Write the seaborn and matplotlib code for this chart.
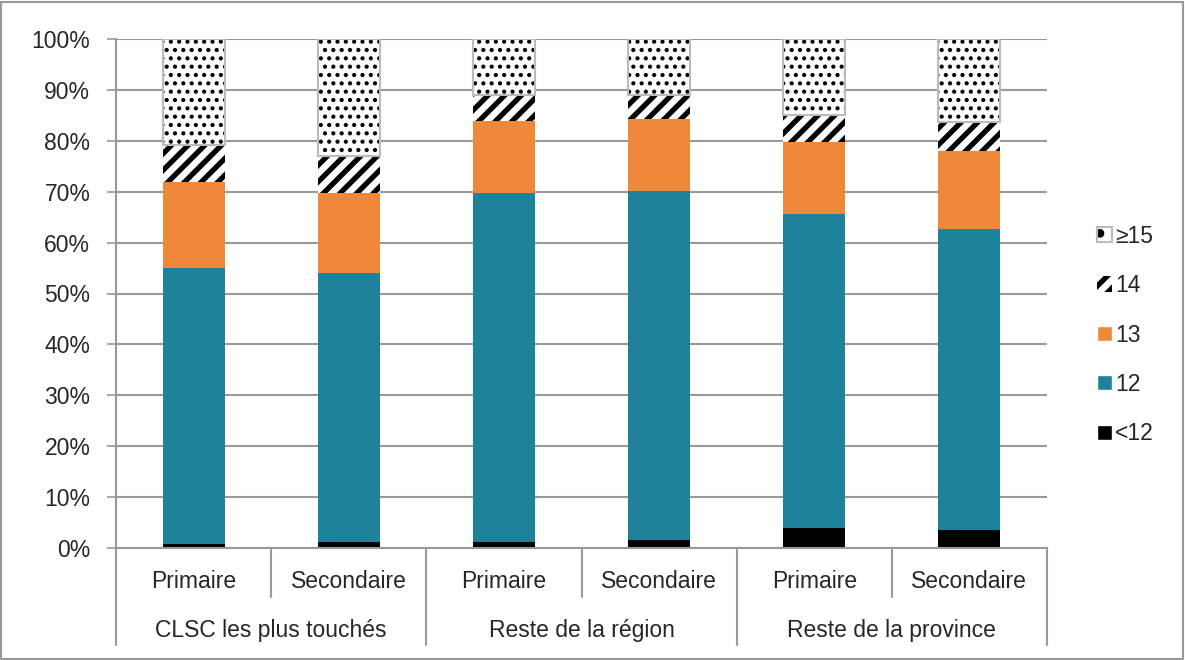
import numpy as np
import pandas as pd
import matplotlib
matplotlib.use("Agg")
import matplotlib.pyplot as plt
import matplotlib.patches as mpatches
from matplotlib.legend_handler import HandlerTuple
import seaborn as sns

# data (percent per segment, bottom to top)
groups = ["CLSC les plus touchés", "Reste de la région", "Reste de la province"]
levels = ["Primaire", "Secondaire"]
seg_labels = ["<12", "12", "13", "14", "≥15"]
lt12 = [0.8, 1.2, 1.2, 1.6, 3.9, 3.6]
v12 = [54.2, 52.8, 68.5, 68.5, 61.7, 59.1]
v13 = [16.9, 15.7, 14.2, 14.2, 14.2, 15.3]
v14 = [7.3, 7.3, 5.1, 4.7, 5.3, 5.7]
ge15 = [20.8, 23.0, 11.0, 11.0, 14.9, 16.3]

keys = [g + " / " + l for g in groups for l in levels]
segs = np.array([lt12, v12, v13, v14, ge15])
cum = segs.cumsum(axis=0)
cum = cum / cum[-1] * 100

sns.set_style("white")
plt.rcParams["font.family"] = ["Liberation Sans", "DejaVu Sans"]
plt.rcParams["hatch.linewidth"] = 3.8

fig = plt.figure(figsize=(11.85, 6.6), dpi=100)
ax = fig.add_axes([116 / 1185, 1 - 548 / 660, (1047 - 116) / 1185, (548 - 39) / 660])

teal = "#1E829B"
orange = "#F0883A"
w = 0.4
fs = 16.5

# stacked bars drawn from the top down (cumulative totals)
df = pd.DataFrame({"cat": keys})
styles = [
    (4, dict(color="white", edgecolor="black", hatch="..", linewidth=0)),
    (3, dict(color="white", edgecolor="black", hatch="//", linewidth=0)),
    (2, dict(color=orange, linewidth=0)),
    (1, dict(color=teal, linewidth=0)),
    (0, dict(color="black", linewidth=0)),
]
for i, st in styles:
    df["val"] = cum[i]
    sns.barplot(data=df, x="cat", y="val", order=keys, width=w, ax=ax,
                errorbar=None, saturation=1, **st)

# hatch styling, grey outline around the ≥15 part
for p in list(ax.patches):
    h = p.get_hatch()
    if h == "..":
        if hasattr(p, "set_hatch_linewidth"):
            p.set_hatch_linewidth(1.8)
    if h == "//":
        x0, y0 = p.get_x(), p.get_y() + p.get_height()
        for q in ax.patches:
            if q.get_hatch() == ".." and abs(q.get_x() - p.get_x()) < 1e-6:
                ax.add_patch(mpatches.Rectangle((x0, y0), p.get_width(), q.get_height() - y0,
                                                fill=False, edgecolor="#BBBBBB", linewidth=1.5,
                                                zorder=5))

ax.set_ylim(0, 100)
ax.set_xlim(-0.5, 5.5)
ax.set_yticks(np.arange(0, 101, 10))
ax.set_yticklabels([f"{t}%" for t in range(0, 101, 10)], fontsize=fs)
ax.yaxis.grid(True, color="#999999", linewidth=1.5)
ax.set_axisbelow(True)
ax.tick_params(axis="y", left=True, length=6.5, width=1.2, color="#999999", pad=12)
ax.set_xticks([])
ax.set_xlabel("")
ax.set_ylabel("")
for s in ["top", "right"]:
    ax.spines[s].set_visible(False)
for s in ["left", "bottom"]:
    ax.spines[s].set_color("#999999")
    ax.spines[s].set_linewidth(1.5)

# two-level category labels
trans = ax.get_xaxis_transform()
for i, k in enumerate(keys):
    ax.text(i, -0.066, levels[i % 2], transform=trans, ha="center", va="center", fontsize=fs)
for j, g in enumerate(groups):
    ax.text(2 * j + 0.5, -0.162, g, transform=trans, ha="center", va="center", fontsize=fs)
for xb in np.arange(-0.5, 6, 1):
    long = (xb + 0.5) % 2 == 0
    ax.plot([xb, xb], [0, -0.19 if long else -0.096], transform=trans,
            color="#999999", linewidth=1.5, clip_on=False)

# legend
dots = mpatches.Patch(facecolor="white", edgecolor="black", hatch=".", linewidth=0)
if hasattr(dots, "set_hatch_linewidth"):
    dots.set_hatch_linewidth(2.5)
frame = mpatches.Patch(fill=False, edgecolor="#BBBBBB", linewidth=1.5)
handles = [
    (dots, frame),
    mpatches.Patch(facecolor="white", edgecolor="black", hatch="//", linewidth=0),
    mpatches.Patch(facecolor=orange),
    mpatches.Patch(facecolor=teal),
    mpatches.Patch(facecolor="black"),
]
fig.legend(handles=handles, labels=seg_labels[::-1], loc="center left",
           bbox_to_anchor=(1076 / 1185, 1 - 335 / 660),
           handler_map={tuple: HandlerTuple(ndivide=1)},
           frameon=False, fontsize=fs, handlelength=0.65, handleheight=0.65,
           handletextpad=0.15, labelspacing=1.15)

# figure border
fig.patches.append(mpatches.Rectangle((0.001, 0.002), 0.997, 0.995, transform=fig.transFigure,
                                      fill=False, edgecolor="#999999", linewidth=1.5))

fig.savefig("out.png", dpi=100)
